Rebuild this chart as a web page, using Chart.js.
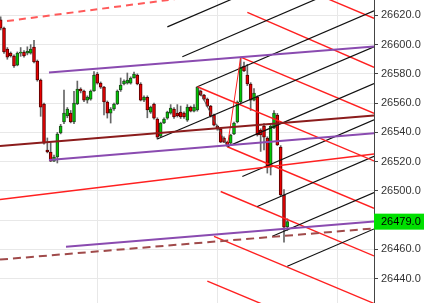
<!DOCTYPE html>
<html>
<head>
<meta charset="utf-8">
<script src="https://cdn.jsdelivr.net/npm/chart.js@4.4.0/dist/chart.umd.min.js"></script>
<style>
  html, body { margin: 0; padding: 0; background: #fff; }
  #wrap { width: 431px; height: 303px; }
</style>
</head>
<body>
<div id="wrap"><canvas id="chart"></canvas></div>
<script>
// candles, one per bar index
const opens = [26617, 26611.3, 26597, 26594.2, 26592.2, 26586, 26594.2, 26594.9, 26594.2, 26594.2,
  26598.3, 26588.8, 26575.8, 26559.4, 26528, 26526.6, 26520.4, 26523.2, 26539.6, 26547.1,
  26551.2, 26553.2, 26547.1, 26559.4, 26569.6, 26568.3, 26562.1, 26562.8, 26568.3, 26579.9,
  26573.7, 26571, 26560.8, 26553.2, 26556, 26559.4, 26569, 26573.1, 26573.7, 26573.7,
  26577.2, 26579.2, 26573.1, 26562.1, 26564, 26553.9, 26559.4, 26549.1, 26537.5, 26546.4,
  26549.8, 26553.2, 26556, 26553.2, 26553.9, 26553.2, 26548.4, 26557.3, 26554.6, 26555.3,
  26568.3, 26565.5, 26562.8, 26558, 26551.9, 26544.4, 26542.3, 26536.2, 26533.4, 26532.7,
  26538.9, 26547.1, 26560.8, 26585.4, 26579.2, 26573.1, 26562.1, 26564.2, 26541.6, 26544.4,
  26536.2, 26516.3, 26543, 26551.9, 26530, 26497.2, 26475.5]
const highs = [26619, 26612, 26598, 26595, 26593, 26595, 26598, 26596, 26598.5, 26600,
  26603, 26589.5, 26576.5, 26560, 26536.2, 26533, 26524.5, 26540, 26545.5, 26569,
  26557, 26555, 26568, 26575.1, 26570.5, 26569, 26565, 26569, 26581.5, 26581,
  26574.5, 26571.5, 26561.5, 26557, 26560, 26569, 26577.2, 26576, 26580.6, 26578,
  26581.3, 26580, 26574, 26565, 26565, 26558, 26560, 26550, 26547, 26550,
  26554.5, 26559, 26557, 26559, 26558, 26554, 26559, 26558, 26559, 26571.5,
  26569, 26566, 26563.5, 26558.5, 26552.5, 26545, 26543, 26537, 26534, 26538.8,
  26547, 26561.5, 26591.4, 26588, 26586.5, 26574, 26570, 26565, 26542.5, 26546,
  26537, 26545, 26555, 26553, 26531, 26501, 26481]
const lows = [26610, 26594, 26590, 26591.5, 26584.5, 26585.5, 26592, 26591.5, 26593, 26593.5,
  26587.5, 26575, 26551, 26532, 26526, 26520, 26520, 26519.1, 26539, 26546,
  26550, 26546.5, 26546, 26559, 26567, 26561, 26560, 26562, 26568, 26573,
  26570, 26551.9, 26549.8, 26546.4, 26555, 26559, 26568, 26572.5, 26573, 26573,
  26577, 26572.5, 26561.5, 26561, 26550, 26553, 26549, 26535.5, 26537, 26546,
  26549, 26552.5, 26549.5, 26550.5, 26549.5, 26549.5, 26547.5, 26554, 26554, 26554.5,
  26565, 26562, 26557.5, 26550.5, 26544.5, 26541.5, 26533, 26533, 26530.2, 26531,
  26538.5, 26546.5, 26560, 26581.5, 26572, 26555, 26561.5, 26537.5, 26527, 26528,
  26512.2, 26510.9, 26542.5, 26531, 26496.5, 26465, 26473]
const closes = [26611.3, 26595, 26591.5, 26592.2, 26585.4, 26594.2, 26594.9, 26592.2, 26595.5, 26597,
  26588.1, 26575.8, 26557.3, 26532.7, 26526.6, 26520.4, 26523.2, 26538.9, 26544.4, 26553.2,
  26556, 26547.1, 26560.1, 26569.6, 26568.3, 26562.1, 26564.2, 26568.3, 26579.2, 26573.7,
  26571, 26560.8, 26553.2, 26556, 26559.4, 26568.3, 26572.4, 26575.1, 26575.8, 26577.2,
  26579.9, 26573.1, 26562.1, 26564.2, 26555.3, 26557.3, 26549.8, 26536.8, 26546.4, 26549.1,
  26553.9, 26556.7, 26550.5, 26551.2, 26550.5, 26550.5, 26557.3, 26554.6, 26557.3, 26571,
  26565.5, 26562.8, 26558, 26551.2, 26545, 26542.3, 26533.4, 26533.4, 26530.7, 26538.2,
  26546.4, 26560.8, 26584.7, 26582, 26573.1, 26562.1, 26566.9, 26538.2, 26538.2, 26536.8,
  26516.3, 26544.4, 26553.2, 26531.4, 26497.2, 26475.3, 26479.0]

const priceTicks = [26440, 26460, 26480, 26500, 26520, 26540, 26560, 26580, 26600, 26620]
const gridBars = [29, 65, 101]
const lastPrice = 26479.0

// drawn lines: [bar1, price1, bar2, price2]
const blackTines = [
  [50, 26612.1, 112, 26672.9],
  [54.5, 26591.7, 112, 26648.1],
  [59, 26571.2, 112, 26623.1],
  [68, 26530.3, 112, 26573.4],
  [72.5, 26509.9, 112, 26548.6],
  [77, 26489.4, 112, 26523.7],
  [81.5, 26469.0, 112, 26498.9],
  [86, 26448.5, 112, 26474.0]
]
const blackMedian = [47, 26535.5, 112, 26598.5]
const blackHandle = [59, 26571.2, 68, 26530.3]

const redTines = [
  [76, 26652.5, 112, 26618.0],
  [74, 26622.0, 112, 26584.5],
  [72, 26591.4, 112, 26553.1],
  [68, 26530.2, 112, 26488.1],
  [66, 26499.6, 112, 26455.6],
  [64, 26469.0, 112, 26423.1],
  [62, 26438.4, 112, 26390.6]
]
const redMedian = [59, 26571.2, 112, 26520.5]
const redHandle = [68, 26530.2, 72, 26591.4]

const redDashed = [1.9, 26616.1, 112, 26648.9]
const purpleTop = [14.5, 26580.9, 112, 26598.7]
const maroonLine = [-0.2, 26530.7, 112, 26551.5]
const purpleMid = [14.5, 26521.1, 112, 26539.4]
const purpleLow = [19.6, 26461.9, 112, 26479.1]
const maroonDashed = [-0.2, 26453.1, 112, 26474.4]
const redLine = [-0.2, 26494.1, 112, 26525.2]

const up = closes.map((c, i) => c >= opens[i])

const lineSet = (l, color, width, dash) => ({
  type: 'line',
  data: [{x: l[0], y: l[1]}, {x: l[2], y: l[3]}],
  borderColor: color,
  borderWidth: width,
  borderDash: dash || [],
  pointRadius: 0,
  fill: false,
  order: 0
})

const lines = [
  lineSet(redDashed, '#ff5a5a', 2, [7, 5]),
  lineSet(maroonDashed, '#a04a4a', 2, [8, 5]),
  lineSet(purpleTop, '#8a4bb0', 2),
  lineSet(purpleMid, '#8a4bb0', 2),
  lineSet(purpleLow, '#8a4bb0', 2),
  lineSet(maroonLine, '#8b1c1c', 2),
  lineSet(redLine, '#ff2020', 1.4),
  lineSet(blackMedian, '#111', 1.2),
  lineSet(blackHandle, '#555', 1),
  lineSet(redMedian, '#ff2020', 1.4),
  lineSet(redHandle, '#ff2020', 1),
  ...blackTines.map(l => lineSet(l, '#111', 1.2)),
  ...redTines.map(l => lineSet(l, '#ff2020', 1.4))
]

const priceTag = {
  id: 'priceTag',
  afterDraw(chart) {
    const {ctx, chartArea} = chart
    const py = chart.scales.y.getPixelForValue(lastPrice)
    ctx.save()
    ctx.fillStyle = '#00e000'
    ctx.fillRect(chartArea.right, py - 8, 50, 16)
    ctx.fillStyle = '#000'
    ctx.font = '11px "Liberation Sans", Arial, sans-serif'
    ctx.textBaseline = 'middle'
    ctx.fillText(lastPrice.toFixed(1), chartArea.right + 7, py + 0.5)
    ctx.restore()
  }
}

new Chart(document.getElementById('chart'), {
  type: 'bar',
  data: {
    datasets: [
      ...lines,
      {
        type: 'bar',
        data: opens.map((o, i) => ({x: i, y: [lows[i], highs[i]]})),
        backgroundColor: '#666',
        barThickness: 1,
        grouped: false,
        order: 2
      },
      {
        type: 'bar',
        data: opens.map((o, i) => ({x: i, y: [o, closes[i]]})),
        backgroundColor: up.map(u => u ? '#00c800' : '#e80000'),
        borderColor: up.map(u => u ? '#1d4d1d' : '#5a0000'),
        borderWidth: 1,
        borderSkipped: false,
        barThickness: 3,
        grouped: false,
        order: 1
      }
    ]
  },
  options: {
    responsive: true,
    maintainAspectRatio: false,
    animation: false,
    layout: { padding: 0 },
    plugins: { legend: { display: false }, tooltip: { enabled: false } },
    scales: {
      x: {
        type: 'linear',
        min: -0.2,
        max: 112,
        offset: false,
        afterBuildTicks: s => { s.ticks = gridBars.map(v => ({value: v})) },
        ticks: { display: false },
        grid: { color: '#e8e8e8', drawTicks: false, offset: false },
        border: { display: false },
        afterFit: s => { s.height = 0; s.paddingLeft = 0; s.paddingRight = 0 }
      },
      y: {
        position: 'right',
        min: 26423.4,
        max: 26630.5,
        afterBuildTicks: s => { s.ticks = priceTicks.map(v => ({value: v})) },
        ticks: {
          callback: v => v.toFixed(1),
          color: '#333',
          font: { family: '"Liberation Sans", Arial, sans-serif', size: 11 },
          padding: 3
        },
        grid: { color: '#e8e8e8', tickLength: 4, tickColor: '#444' },
        border: { color: '#444' },
        afterFit: s => { s.width = 57; s.paddingTop = 0; s.paddingBottom = 0 }
      }
    }
  },
  plugins: [priceTag]
})
</script>
</body>
</html>
